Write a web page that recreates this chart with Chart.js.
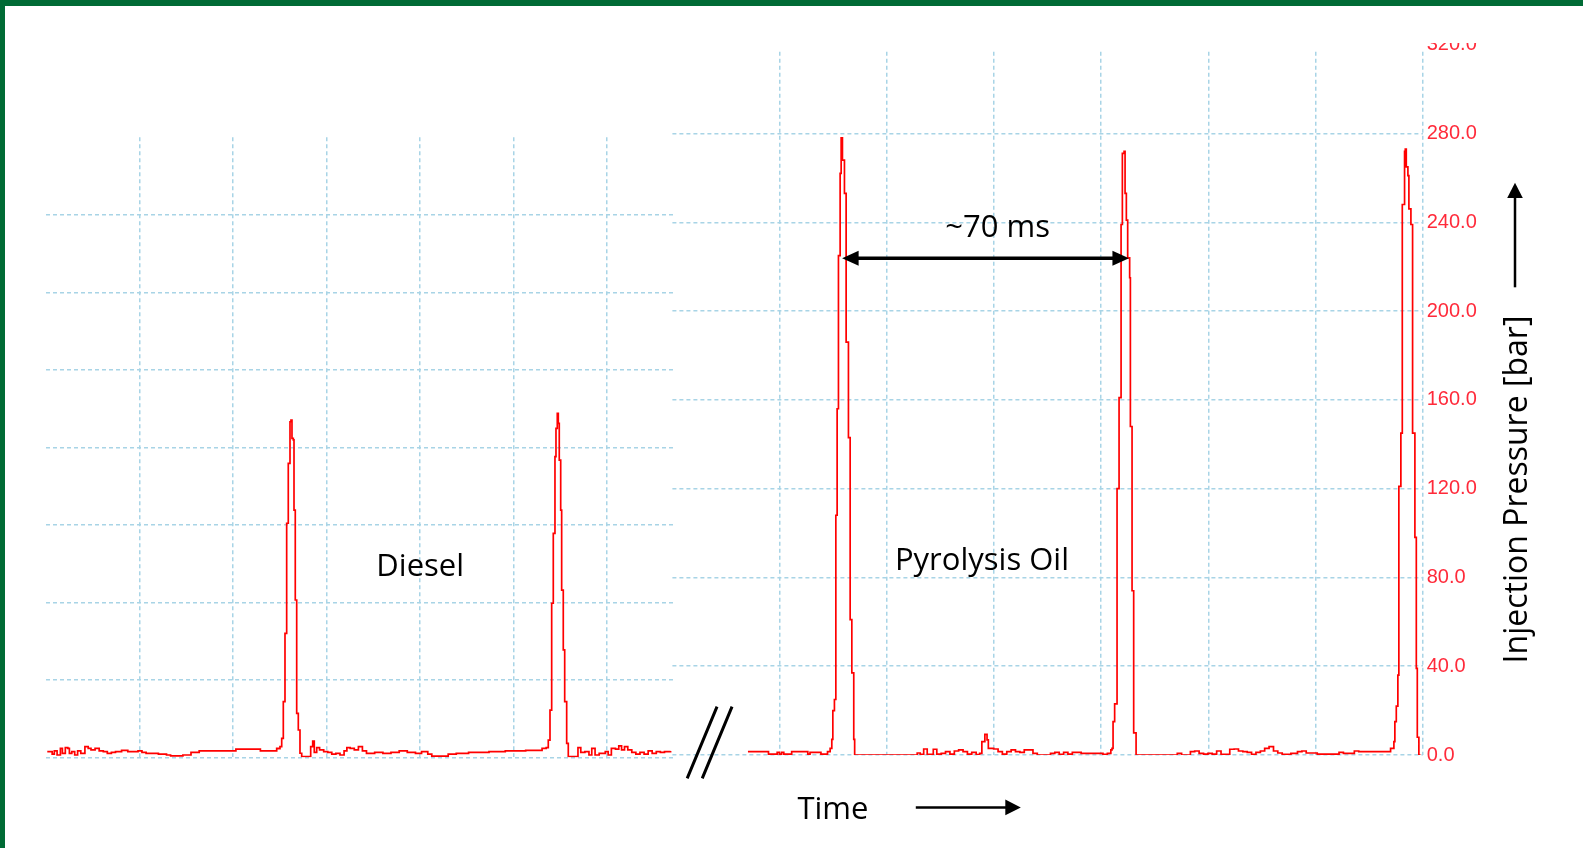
<!DOCTYPE html>
<html>
<head>
<meta charset="utf-8">
<title>Injection pressure - Diesel vs Pyrolysis Oil</title>
<script src="https://cdn.jsdelivr.net/npm/chart.js"></script>
<style>
    html, body { margin: 0; padding: 0; background: #fff; overflow: hidden; }
    #page { position: relative; width: 1583px; height: 848px; background: #fff; overflow: hidden; }
    .frame { position: absolute; background: #006b35; }
    canvas { position: absolute; }
</style>
</head>
<body>
<div id="page">
    <canvas id="dieselChart" width="635" height="628" style="left:42px; top:133px;"></canvas>
    <canvas id="pyroChart" width="880" height="797" style="left:668px; top:43px;"></canvas>
    <div class="frame" style="left:0; top:0; width:1583px; height:6px;"></div>
    <div class="frame" style="left:0; top:0; width:5px; height:848px;"></div>
</div>

<script>
// Diesel trace (time in ms, 25 ms per grid division; pressure in bar)
const dieselTime = [0.29, 1.07, 1.60, 2.17, 2.91, 3.80, 4.33, 5.11, 5.78, 6.20, 6.84, 7.62, 8.40, 9.25, 10.35, 11.23,
    11.98, 13.07, 14.17, 15.27, 16.34, 17.43, 18.53, 20.16, 21.82, 24.55, 25.61, 26.71, 28.90, 30.00, 32.17, 33.26,
    36.55, 38.72, 40.91, 44.17, 49.63, 50.72, 56.18, 57.27, 60.56, 61.63, 62.06, 62.51, 62.97, 63.40, 63.85, 64.30,
    64.73, 65.19, 65.45, 65.72, 66.07, 66.26, 66.60, 66.98, 67.41, 67.86, 68.32, 70.37, 70.72, 71.26, 71.68, 72.33,
    73.10, 74.20, 75.29, 76.36, 77.46, 78.56, 79.65, 80.40, 81.28, 82.38, 83.48, 84.55, 85.64, 87.83, 90.03, 92.19,
    94.39, 96.55, 98.74, 100.37, 102.03, 103.10, 105.29, 107.49, 109.65, 112.94, 116.20, 118.40, 122.75, 124.95,
    128.21, 130.40, 132.59, 133.70, 134.25, 134.71, 135.16, 135.59, 136.04, 136.31, 136.66, 136.93, 137.19, 137.57,
    137.83, 138.26, 138.64, 139.17, 139.60, 141.52, 142.19, 142.94, 144.04, 145.13, 145.88, 146.76, 147.86, 149.49,
    150.27, 151.12, 152.22, 153.10, 153.85, 154.63, 155.51, 156.58, 157.67, 158.77, 159.87, 160.96, 162.03, 163.13,
    164.22, 165.32, 166.95];
const dieselPressure = [2.9, 2.9, 1.6, 3.3, 1.2, 4.6, 2.05, 5.0, 4.6, 2.05, 2.9, 1.2, 3.3, 2.05, 5.5, 4.6,
    3.8, 4.6, 3.3, 2.9, 2.05, 2.5, 2.9, 3.6, 2.9, 3.3, 2.5, 2.05, 2.05, 1.6, 1.2, 0.7,
    1.2, 2.5, 3.3, 3.3, 3.3, 4.2, 4.2, 3.3, 3.3, 4.6, 4.5, 5.5, 9.8, 28.7, 64, 120.8,
    151.7, 173.2, 174, 164.6, 163.8, 127.6, 81.2, 22.7, 14.1, 2.1, 0.3, 0.3, 5.5, 8.4, 2.5, 5.0,
    3.8, 2.9, 2.5, 1.6, 2.05, 1.2, 3.3, 5.0, 4.6, 3.8, 5.5, 3.3, 2.05, 2.5, 2.05, 2.5,
    3.3, 2.5, 2.05, 2.9, 1.6, 0.6, 0.6, 1.6, 2.05, 2.5, 2.5, 2.9, 3.3, 3.3,
    3.6, 3.6, 4.6, 5, 8.9, 24.4, 79.5, 115.6, 155.2, 169.8, 177.5, 172.4, 153.4, 127.6,
    86.3, 55.4, 28.7, 7.2, 0.3, 0.3, 5.0, 2.5, 2.9, 1.2, 4.6, 1.2, 2.05, 2.9,
    1.2, 4.6, 4.2, 5.9, 3.8, 5.5, 3.8, 2.5, 1.6, 2.5, 1.6, 3.3, 2.05, 2.9,
    2.5, 2.9, 3.3];

// Pyrolysis oil trace
const pyroTime = [17.62, 21.90, 22.41, 23.95, 24.44, 24.95, 25.47, 25.98, 27.01, 27.82, 31.07, 31.58, 32.10, 34.13,
    34.64, 35.67, 36.18, 36.79, 37.18, 37.42, 37.79, 38.12, 38.42, 38.73, 39.12, 39.36, 39.66, 40.13, 40.52, 41.06,
    41.46, 41.85, 42.30, 42.51, 56.56, 57.10, 57.80, 58.61, 59.43, 60.85, 61.67, 62.70, 63.70, 64.73, 65.76, 66.76,
    67.79, 68.81, 69.82, 70.85, 71.66, 72.18, 72.88, 73.39, 73.69, 74.93, 75.96, 76.96, 77.99, 79.01, 80.02, 81.05,
    82.07, 83.08, 84.10, 85.11, 87.16, 88.19, 89.19, 90.22, 91.25, 92.25, 93.28, 95.33, 98.39, 100.42, 101.45, 102.26,
    102.54, 102.78, 103.15, 103.71, 104.18, 104.65, 104.95, 105.35, 105.58, 105.88, 106.19, 106.65, 106.82, 107.21,
    107.59, 108.15, 117.25, 117.76, 118.77, 120.82, 121.82, 122.85, 123.88, 124.91, 125.91, 126.94, 127.96, 128.99,
    130.00, 131.02, 132.03, 133.05, 134.08, 135.08, 136.11, 137.14, 138.14, 139.17, 140.20, 141.20, 142.23, 144.26,
    145.80, 146.83, 147.83, 149.37, 150.40, 152.43, 154.46, 155.49, 156.51, 158.03, 159.06, 160.08, 162.63, 166.71,
    167.51, 168.28, 168.51, 168.84, 169.21, 169.44, 169.91, 170.24, 170.77, 170.94, 171.17, 171.55, 171.78, 172.25,
    172.64, 173.18, 173.51, 173.74, 174.11, 174.50];
const pyroPressure = [1.5, 1.5, 0.4, 0.4, 1.2, 0.4, 1.2, 0.4, 0.4, 1.5, 1.5, 0.4, 1.2, 1.2,
    0.4, 0.4, 1.5, 3, 7, 20, 25, 108, 156, 225, 262, 278, 268, 253, 186, 143,
    61, 37, 7, 0, 0, 0.9, 0.3, 2.7, 0.3, 2.6, 0.4, 0.75, 1.5, 0.4, 1.8, 2.3,
    1.5, 0.4, 1.2, 0.2, 0.75, 6.0, 9.3, 6.8, 3.0, 2.7, 1.5, 0.4, 1.5, 2.3, 1.5, 1.2,
    2.3, 2.3, 0.75, 0, 0, 0.75, 1.2, 0.3, 1.2, 0.4, 1.2, 0.75, 0.75, 0.3, 0.75, 2.3,
    3, 15, 23, 120, 161, 239, 271, 272, 253, 241, 224, 215, 148, 74,
    10, 0, 0, 0.75, 0, 1.5, 1.8, 0.75, 0.4, 0.75, 0.4, 1.8, 0.3, 0.3,
    2.6, 2.7, 1.8, 1.5, 1.2, 0.3, 1.2, 1.8, 3.0, 3.8, 1.8, 0.9, 0.3, 0.75,
    1.5, 1.8, 0.9, 0.9, 0.4, 0.4, 0.4, 1.2, 0.75, 0.75, 1.8, 1.5, 1.5, 1.5,
    3, 6, 15, 22, 36, 121, 145, 248, 272, 273, 265, 261, 246, 239,
    145, 98, 39, 8, 0, 0];

// Axis ticks
const pressureTicks = [0, 40, 80, 120, 160, 200, 240, 280, 320];
const dieselGridTimes = [25, 50, 75, 100, 125, 150];
const pyroGridTimes = [25, 50, 75, 100, 125, 150, 175];

const GRID = "#a8d4e6";
const NONE = "rgba(0,0,0,0)";
const TEXT_FONT = '31px "Open Sans"';

function toPoints(xs, ys) {
    return xs.map((x, i) => ({x: x, y: ys[i]}));
}

function arrowHead(ctx, x, y, angle, len, half) {
    ctx.save();
    ctx.translate(x, y);
    ctx.rotate(angle);
    ctx.beginPath();
    ctx.moveTo(0, 0);
    ctx.lineTo(-len, -half);
    ctx.lineTo(-len, half);
    ctx.closePath();
    ctx.fill();
    ctx.restore();
}

// Line with an arrow head at the end (and optionally at the start)
function arrow(ctx, x1, y1, x2, y2, width, len, half, both) {
    const a = Math.atan2(y2 - y1, x2 - x1);
    const dx = Math.cos(a) * len * 0.8, dy = Math.sin(a) * len * 0.8;
    ctx.lineWidth = width;
    ctx.beginPath();
    ctx.moveTo(both ? x1 + dx : x1, both ? y1 + dy : y1);
    ctx.lineTo(x2 - dx, y2 - dy);
    ctx.stroke();
    arrowHead(ctx, x2, y2, a, len, half);
    if (both) arrowHead(ctx, x1, y1, a + Math.PI, len, half);
}

function timeAxis(max, gridTimes) {
    return {
        type: "linear",
        min: 0,
        max: max,
        afterBuildTicks: s => { s.ticks = gridTimes.map(v => ({value: v})); },
        ticks: {display: false},
        grid: {color: GRID, lineWidth: 1.5, drawTicks: false},
        border: {display: false, dash: [4, 3]},
        afterFit: s => { s.height = 0; s.paddingLeft = 0; s.paddingRight = 0; }
    };
}

function pressureAxis(showLabels) {
    return {
        type: "linear",
        position: showLabels ? "right" : "left",
        min: 0,
        max: 320,
        afterBuildTicks: s => { s.ticks = pressureTicks.map(v => ({value: v})); },
        ticks: {
            display: showLabels,
            padding: 4,
            color: "#ff2a3a",
            font: {family: '"Liberation Sans", Arial, sans-serif', size: 20},
            callback: v => Number(v).toFixed(1)
        },
        grid: {
            color: ctx => (ctx.tick && ctx.tick.value >= 320) ? NONE : GRID,
            lineWidth: 1.5,
            drawTicks: false
        },
        border: {display: false, dash: [4, 3]},
        afterFit: s => { s.width = showLabels ? 70 : 0; s.paddingTop = 0; s.paddingBottom = 0; }
    };
}

function traceDataset(xs, ys) {
    return {
        data: toPoints(xs, ys),
        borderColor: "#ff0000",
        borderWidth: 1.7,
        pointRadius: 0,
        stepped: true,
        fill: false
    };
}

//Diesel-puolen tekstit
const dieselNotes = {
    id: "dieselNotes",
    afterDraw(chart) {
        const ctx = chart.ctx, xs = chart.scales.x, ys = chart.scales.y;
        ctx.save();
        ctx.fillStyle = "#000";
        ctx.font = TEXT_FONT;
        ctx.textAlign = "center";
        ctx.textBaseline = "alphabetic";
        ctx.fillText("Diesel", xs.getPixelForValue(100), ys.getPixelForValue(93.6));
        ctx.restore();
    }
};

// Pyrolysis oil side: labels, arrows, axis title
const pyroNotes = {
    id: "pyroNotes",
    afterDraw(chart) {
        const ctx = chart.ctx, xs = chart.scales.x, ys = chart.scales.y, area = chart.chartArea;
        const px = v => xs.getPixelForValue(v), py = v => ys.getPixelForValue(v);
        ctx.save();

        // the original screenshot is cut just under the top gridline
        ctx.fillStyle = "#fff";
        ctx.fillRect(area.left - 2, 0, area.right - area.left + 4, 6);

        ctx.fillStyle = "#000";
        ctx.strokeStyle = "#000";
        ctx.font = TEXT_FONT;
        ctx.textBaseline = "alphabetic";
        ctx.textAlign = "center";
        ctx.fillText("Pyrolysis Oil", px(72.2), py(83.5));
        ctx.fillText("~70 ms", px(75.84), py(233.3));
        arrow(ctx, px(39.59), py(223.8), px(106.49), py(223.8), 3.5, 16.5, 7.5, true);

        // axis break marks
        ctx.lineWidth = 3;
        ctx.beginPath();
        ctx.moveTo(px(3.45), py(-10.5));
        ctx.lineTo(px(10.41), py(21.8));
        ctx.moveTo(px(6.96), py(-10.5));
        ctx.lineTo(px(13.91), py(21.8));
        ctx.stroke();

        // time label
        ctx.textAlign = "left";
        ctx.fillText("Time", px(29.15), py(-28.9));
        arrow(ctx, px(56.77), py(-23.6), px(81.26), py(-23.6), 2.5, 15.5, 7.8, false);

        // pressure axis title
        arrow(ctx, area.right + 92.3, py(210.7), area.right + 92.3, py(257.8), 2.5, 15.3, 7.8, false);
        ctx.translate(area.right + 104, py(119.6));
        ctx.rotate(-Math.PI / 2);
        ctx.textAlign = "center";
        ctx.font = '32px "Open Sans"';
        ctx.fillText("Injection Pressure [bar]", 0, 0);
        ctx.restore();
    }
};

function baseOptions(padding, xAxis, yAxis) {
    return {
        responsive: false,
        animation: false,
        layout: {padding: padding},
        plugins: {legend: {display: false}, tooltip: {enabled: false}},
        scales: {x: xAxis, y: yAxis}
    };
}

new Chart(document.getElementById("dieselChart"), {
    type: "line",
    data: {datasets: [traceDataset(dieselTime, dieselPressure)]},
    options: baseOptions({left: 4.2, top: 4.3, right: 4, bottom: 3.7},
        timeAxis(167.6, dieselGridTimes), pressureAxis(false)),
    plugins: [dieselNotes]
});

new Chart(document.getElementById("pyroChart"), {
    type: "line",
    data: {datasets: [traceDataset(pyroTime, pyroPressure)]},
    options: baseOptions({left: 4.4, top: 1.7, right: 55.3, bottom: 85},
        timeAxis(175, pyroGridTimes), pressureAxis(true)),
    plugins: [pyroNotes]
});
</script>
</body>
</html>
